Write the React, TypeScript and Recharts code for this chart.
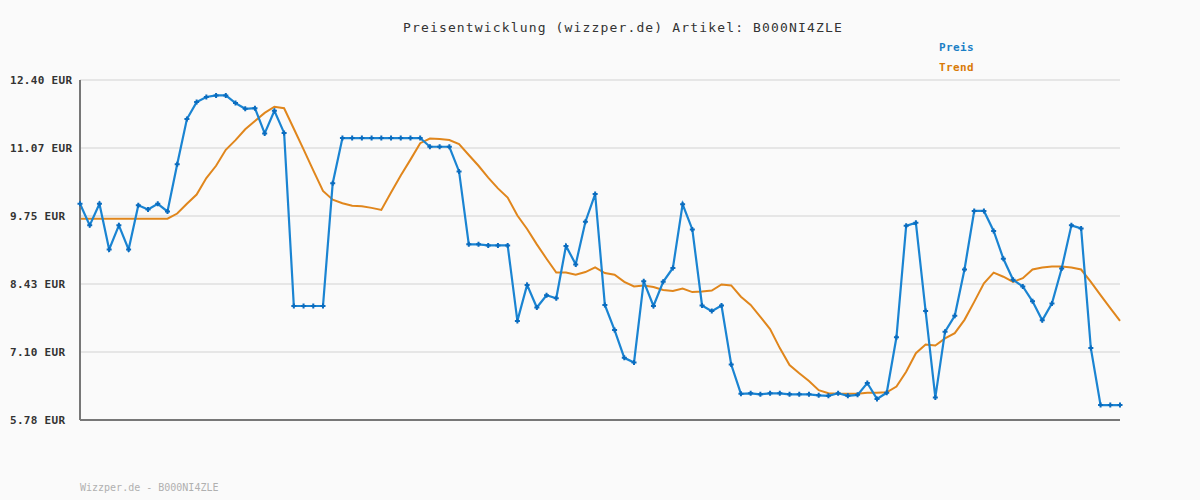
import React from 'react';
import { LineChart, Line, XAxis, YAxis, CartesianGrid } from 'recharts';

// Preis values, one per day
const preis = [
  9.99, 9.57, 9.99, 9.10, 9.57, 9.10, 9.96, 9.88, 9.99, 9.84,
  10.76, 11.64, 11.97, 12.07, 12.10, 12.10, 11.95, 11.84, 11.85, 11.36,
  11.80, 11.37, 8.00, 8.00, 8.00, 8.00, 10.39, 11.27, 11.27, 11.27,
  11.27, 11.27, 11.27, 11.27, 11.27, 11.27, 11.10, 11.10, 11.10, 10.62,
  9.20, 9.20, 9.18, 9.18, 9.18, 7.71, 8.41, 7.97, 8.21, 8.15,
  9.17, 8.81, 9.64, 10.18, 8.02, 7.53, 6.99, 6.90, 8.48, 8.00,
  8.47, 8.74, 9.98, 9.49, 8.01, 7.90, 8.01, 6.86, 6.29, 6.30,
  6.28, 6.30, 6.30, 6.28, 6.28, 6.28, 6.26, 6.25, 6.30, 6.25,
  6.27, 6.50, 6.19, 6.31, 7.39, 9.56, 9.62, 7.90, 6.22, 7.50,
  7.81, 8.71, 9.85, 9.85, 9.46, 8.92, 8.51, 8.38, 8.09, 7.72,
  8.05, 8.73, 9.57, 9.51, 7.18, 6.07, 6.07, 6.07,
];

const trend = [
  9.70, 9.70, 9.70, 9.70, 9.70, 9.70, 9.70, 9.70, 9.70, 9.70,
  9.80, 9.99, 10.17, 10.49, 10.73, 11.04, 11.23, 11.44, 11.60, 11.76,
  11.88, 11.85, 11.45, 11.05, 10.64, 10.24, 10.07, 10.00, 9.95, 9.94,
  9.91, 9.87, 10.21, 10.54, 10.85, 11.17, 11.26, 11.25, 11.23, 11.15,
  10.94, 10.73, 10.50, 10.29, 10.11, 9.76, 9.50, 9.20, 8.92, 8.65,
  8.65, 8.61, 8.66, 8.75, 8.64, 8.61, 8.47, 8.38, 8.40, 8.37,
  8.31, 8.29, 8.34, 8.27, 8.28, 8.30, 8.42, 8.40, 8.18, 8.02,
  7.79, 7.55, 7.18, 6.85, 6.69, 6.54, 6.36, 6.30, 6.29, 6.29,
  6.29, 6.31, 6.31, 6.32, 6.43, 6.72, 7.08, 7.25, 7.23, 7.37,
  7.47, 7.73, 8.08, 8.44, 8.65, 8.57, 8.47, 8.54, 8.71, 8.75,
  8.77, 8.77, 8.75, 8.71, 8.47, 8.21, 7.96, 7.71,
];

const yTicks = [5.78, 7.104, 8.428, 9.752, 11.076, 12.4];
const yLabels = ['5.78 EUR', '7.10 EUR', '8.43 EUR', '9.75 EUR', '11.07 EUR', '12.40 EUR'];

const data = preis.map((p, i) => ({ idx: i, preis: p, trend: trend[i] }));

const mono = '"DejaVu Sans Mono", "Liberation Mono", monospace';

const YTick = (props: any) => {
  const { y, payload } = props;
  const i = yTicks.indexOf(payload.value);
  return (
    <text x={10} y={y + 4} fontFamily={mono} fontSize={11} fontWeight="bold" fill="#333" letterSpacing={0.3}>
      {yLabels[i] ?? ''}
    </text>
  );
};

const PlusDot = (props: any) => {
  const { cx, cy } = props;
  if (cx == null || cy == null) return null;
  return (
    <path
      d={`M${cx - 2.5},${cy}H${cx + 2.5}M${cx},${cy - 2.5}V${cy + 2.5}`}
      stroke="#0a6cbf"
      strokeWidth={2}
      fill="none"
    />
  );
};

export default function App() {
  return (
    <div style={{ position: 'absolute', left: 0, top: 0, width: 1200, height: 500, background: '#fafafa' }}>
      <LineChart width={1200} height={500} data={data} margin={{ top: 80, right: 80, bottom: 79, left: 0 }}>
        <CartesianGrid horizontal vertical={false} stroke="#e6e6e6" strokeWidth={2} />
        <XAxis
          dataKey="idx"
          tick={false}
          tickLine={false}
          height={1}
          axisLine={{ stroke: '#777', strokeWidth: 2 }}
        />
        <YAxis
          width={80}
          domain={[5.78, 12.4]}
          ticks={yTicks}
          interval={0}
          tick={<YTick />}
          tickLine={false}
          axisLine={{ stroke: '#777', strokeWidth: 2 }}
        />
        <Line
          type="linear"
          dataKey="trend"
          stroke="#e0861c"
          strokeWidth={2}
          dot={false}
          isAnimationActive={false}
        />
        <Line
          type="linear"
          dataKey="preis"
          stroke="#1a84d2"
          strokeWidth={2.2}
          dot={<PlusDot />}
          activeDot={false}
          isAnimationActive={false}
        />
      </LineChart>
      <svg width={1200} height={500} style={{ position: 'absolute', left: 0, top: 0, pointerEvents: 'none' }}>
        <text x={403} y={32} fontFamily={mono} fontSize={13} fill="#333" letterSpacing={1.15}>
          Preisentwicklung (wizzper.de) Artikel: B000NI4ZLE
        </text>
        <text x={939} y={51} fontFamily={mono} fontSize={11} fontWeight="bold" fill="#1a7fc6" letterSpacing={0.4}>
          Preis
        </text>
        <text x={939} y={71} fontFamily={mono} fontSize={11} fontWeight="bold" fill="#d97a06" letterSpacing={0.4}>
          Trend
        </text>
        <text x={80} y={491} fontFamily={mono} fontSize={10} fill="#b0b0b0">
          Wizzper.de - B000NI4ZLE
        </text>
      </svg>
    </div>
  );
}
